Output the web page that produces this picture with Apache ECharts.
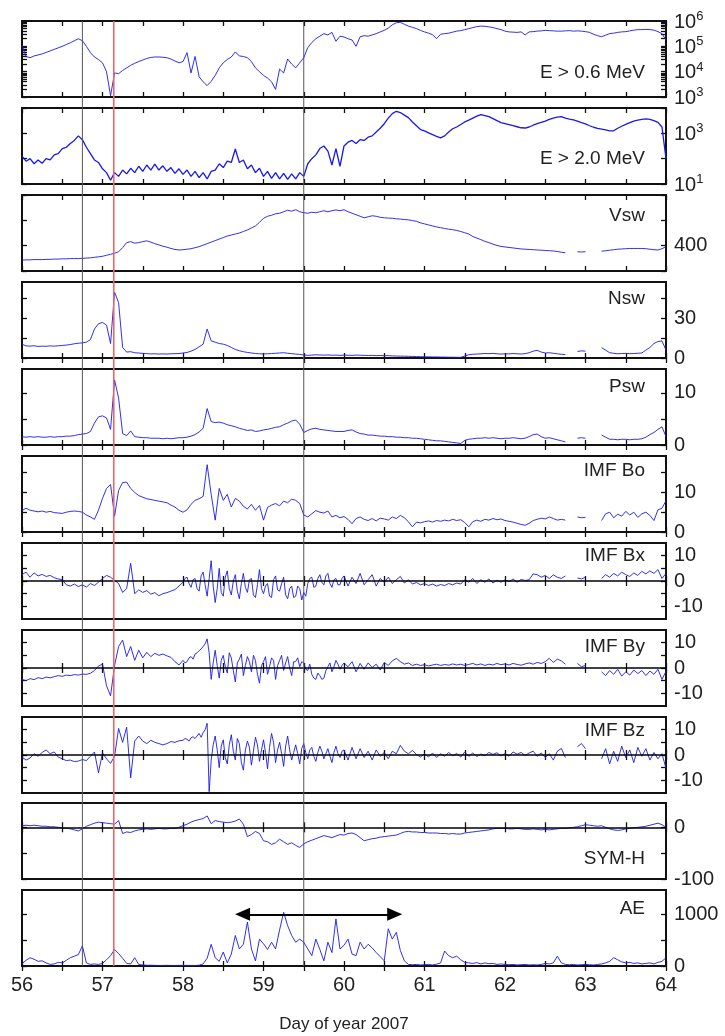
<!DOCTYPE html>
<html><head><meta charset="utf-8">
<script src="https://cdn.jsdelivr.net/npm/echarts@6/dist/echarts.min.js"></script>
<style>html,body{margin:0;padding:0;background:#fff}#c{width:725px;height:1036px}</style>
</head><body><div id="c"></div>
<script>
// ---- time grid (day of year 2007), sample step 0.05 day; finer 0.025 step for 58-60 in IMF panels ----
const T0 = 56, DT = 0.05;
const FINE_T0 = 58, FINE_T1 = 60, FINE_DT = 0.025;
const dayTicks = [56,56.5,57,57.5,58,58.5,59,59.5,60,60.5,61,61.5,62,62.5,63,63.5,64];
const dayLabels = [56,57,58,59,60,61,62,63,64];
const markerDays = [56.75, 59.5];
const shockDay = 57.14;
const aeArrowDays = [58.74, 60.63];
const aeArrowLevel = 1000;

// E > 0.6 MeV flux, log10 exponent
const e06Exp = [
5.05,4.6,4.55,4.62,4.66,4.7,4.76,4.82,4.88,4.94,5.0,5.07,5.14,5.22,5.3,5.22,5.0,4.75,4.58,4.48,
4.35,4.0,3.05,3.95,3.92,4.05,4.15,4.25,4.33,4.4,4.46,4.52,4.56,4.58,4.58,4.57,4.55,4.5,4.42,4.35,
4.4,4.75,3.95,4.6,3.8,3.6,3.45,3.62,3.85,4.15,4.35,4.48,4.58,4.78,4.62,4.6,4.55,4.4,4.15,4.0,
3.85,3.75,3.6,3.3,4.1,3.95,4.5,4.3,4.15,4.35,4.55,4.95,5.15,5.3,5.4,5.5,5.45,5.55,5.2,5.4,
5.37,5.3,5.25,5.0,5.38,5.42,5.4,5.45,5.5,5.57,5.63,5.72,5.85,5.93,5.95,5.87,5.8,5.75,5.7,5.63,
5.57,5.52,5.46,5.3,5.48,5.5,5.52,5.56,5.6,5.62,5.66,5.7,5.74,5.78,5.8,5.79,5.77,5.74,5.7,5.66,
5.6,5.57,5.56,5.55,5.57,5.45,5.57,5.58,5.6,5.61,5.63,5.62,5.61,5.6,5.6,5.61,5.62,5.6,5.61,5.6,
5.58,5.55,5.48,5.42,5.38,5.44,5.5,5.52,5.55,5.57,5.58,5.61,5.64,5.66,5.66,5.67,5.66,5.64,5.58,5.5,
5.25];
// E > 2.0 MeV flux, log10 exponent
const e20Exp = [
2.1,1.9,2.0,1.8,1.95,1.82,2.0,1.95,2.15,2.2,2.4,2.45,2.6,2.72,2.9,2.75,2.45,2.2,1.95,1.85,
1.6,1.45,1.15,1.45,1.3,1.55,1.4,1.62,1.45,1.7,1.5,1.75,1.55,1.78,1.55,1.72,1.5,1.65,1.42,1.6,
1.38,1.55,1.3,1.5,1.25,1.45,1.2,1.5,1.55,1.8,1.65,1.9,1.85,2.38,1.85,1.95,1.6,1.75,1.45,1.62,
1.3,1.5,1.22,1.45,1.2,1.42,1.18,1.4,1.2,1.45,1.3,1.8,2.0,2.15,2.4,2.5,2.3,1.75,2.4,1.7,
2.5,2.65,2.72,2.6,2.75,2.72,2.85,2.9,3.05,3.2,3.38,3.6,3.78,3.87,3.82,3.72,3.62,3.45,3.3,3.15,
3.1,3.02,2.95,2.88,2.82,2.9,3.05,3.18,3.25,3.35,3.45,3.52,3.6,3.68,3.74,3.7,3.66,3.58,3.5,3.42,
3.38,3.34,3.3,3.26,3.22,3.21,3.25,3.32,3.38,3.43,3.48,3.55,3.6,3.64,3.66,3.6,3.56,3.53,3.48,3.42,
3.37,3.3,3.24,3.2,3.17,3.14,3.1,3.1,3.2,3.28,3.35,3.42,3.48,3.52,3.55,3.57,3.55,3.5,3.43,3.25,
2.0];
const vsw = [
343,344,344,345,345,345,346,346,347,347,348,348,349,349,349,350,351,352,354,356,
358,362,366,370,376,392,412,416,410,412,416,419,414,408,403,398,394,389,385,383,
384,386,388,392,396,402,408,414,420,426,432,438,442,446,450,456,462,470,478,492,
508,516,520,526,528,534,540,536,542,534,530,528,532,530,534,538,534,538,541,538,
542,534,528,522,516,510,514,518,516,512,510,509,508,506,505,503,502,499,496,490,
486,482,478,474,471,468,465,463,460,456,451,446,436,430,424,417,412,406,401,397,
395,393,391,389,387,386,385,384,383,382,381,380,379,377,374,372,null,null,376,375,
376,null,null,null,378,380,382,384,386,387,388,389,389,389,389,388,386,384,383,388,
396];
const nsw = [
10.5,9.2,9.0,9.3,8.8,9.0,8.9,9.2,9.0,9.3,9.5,9.8,10.2,10.8,11.2,11.5,12.0,14,22,26,
27,25,11,50,42,8,4.5,4.8,4.0,3.8,3.5,3.3,3.1,3.2,3.0,3.1,3.0,3.2,3.3,3.4,
3.8,4.2,5.2,6.5,8.5,10.5,22,13,12,11,10.5,9.5,8,6.5,5.5,4.8,4.2,3.8,3.4,3.2,
3.1,3.2,3.4,3.6,3.8,4.0,3.6,3.3,3.0,2.7,2.3,2.0,2.2,2.4,2.3,2.2,2.3,2.1,2.2,2.0,
2.2,2.1,2.0,2.2,2.1,2.0,1.9,2.0,1.8,1.9,1.7,1.8,1.6,1.5,1.4,1.4,1.3,1.2,1.1,1.0,
0.9,0.9,0.8,0.8,0.7,0.7,0.6,0.6,0.5,0.5,1.5,2.5,2.8,3.0,3.2,3.4,3.3,3.5,3.2,3.0,
3.2,3.1,3.4,3.2,3.0,3.3,4.0,5.2,5.8,4.5,3.8,4.0,3.6,3.2,2.8,2.6,null,null,5.0,5.4,
5.2,null,null,null,7.8,6.0,4.0,3.6,3.2,3.4,3.5,3.3,3.4,3.6,3.8,6.0,8.0,11.0,12.5,13.0,
6.0];
const psw = [
1.6,1.5,1.6,1.5,1.6,1.5,1.5,1.6,1.5,1.6,1.6,1.7,1.7,1.8,2.0,2.1,2.2,2.6,4.2,5.4,
5.6,5.2,3.0,12.5,9.0,2.2,1.8,2.7,1.6,1.5,1.4,1.4,1.3,1.3,1.3,1.2,1.3,1.2,1.3,1.4,
1.4,1.5,1.7,2.0,2.5,3.2,7.0,4.5,4.3,4.4,4.2,3.9,3.7,3.5,3.2,3.0,2.8,2.9,2.6,2.7,
2.9,3.0,3.2,3.4,3.5,3.9,4.2,4.6,4.8,4.0,2.4,2.8,3.1,3.2,3.0,2.9,2.8,2.7,2.6,2.6,
2.6,2.8,2.9,2.5,2.2,2.1,1.9,1.9,1.8,1.7,1.7,1.6,1.6,1.5,1.5,1.4,1.4,1.3,1.3,1.2,
1.1,1.0,0.9,0.8,0.8,0.7,0.6,0.5,0.4,0.3,0.9,1.1,1.2,1.3,1.3,1.4,1.3,1.4,1.3,1.2,
1.3,1.3,1.4,1.3,1.2,1.3,1.6,2.0,2.1,1.6,1.3,1.4,1.2,1.0,0.8,0.6,null,null,1.3,1.4,
1.3,null,null,null,1.9,1.5,1.1,1.1,1.0,1.1,1.1,1.0,1.1,1.1,1.2,1.5,2.0,2.4,3.0,3.5,
1.6];
const imfBo = [
5.4,6.0,5.5,5.3,5.1,5.3,5.0,5.2,4.9,4.8,4.7,5.0,5.2,5.3,5.2,5.0,4.3,3.8,3.2,5.5,
8.5,11.0,12.0,4.0,10.5,12.5,12.6,11.0,10.0,9.2,8.8,8.4,8.2,8.0,7.8,7.6,7.4,6.8,6.3,5.5,
5.0,5.6,7.0,8.0,8.4,9.0,17.0,9.5,3.0,11.0,8.0,9.5,6.3,8.5,7.8,6.5,5.8,7.0,5.5,6.7,
3.0,6.2,6.8,7.2,6.6,7.8,7.4,8.3,8.0,7.2,4.3,3.8,4.6,5.4,5.0,4.8,5.3,3.8,4.2,3.6,
3.9,3.2,2.1,3.4,3.8,3.2,2.9,3.4,2.8,3.5,3.3,3.0,3.8,3.4,4.2,3.6,2.6,1.3,2.5,2.3,
2.6,2.8,2.5,2.9,2.7,3.0,2.8,3.2,2.9,3.1,2.4,1.3,2.6,3.0,2.7,3.2,3.0,3.4,3.1,3.3,
2.9,2.7,2.5,2.2,1.9,1.7,2.2,2.9,3.2,3.5,3.3,3.8,3.4,3.0,3.2,3.0,null,null,3.8,3.6,
3.7,null,null,null,2.9,4.6,5.0,3.6,4.5,4.0,5.2,4.3,5.0,3.7,4.6,5.0,4.2,2.9,5.6,6.0,
7.9];
const imfBx = [
2.5,3.5,1.5,3.2,2.0,2.6,1.8,2.2,1.3,0.8,0.5,-1.5,-2.0,-1.2,-2.2,-1.5,-2.4,-1.0,-1.8,-0.5,
1.0,2.2,1.5,0.2,-1.0,-4.5,-3.0,7.0,-5.0,-3.5,-4.5,-3.8,-5.2,-4.6,-5.8,-5.0,-4.6,-4.0,-3.4,-2.0,
-0.5,1.5,-2.5,1.0,-4.0,3.5,-6.0,8.0,-8.5,5.0,-6.0,4.0,-5.5,2.5,-7.0,3.0,-4.5,1.0,-6.5,4.5,
-5.0,-1.0,-6.5,2.0,-4.0,1.5,-7.0,-2.0,-6.0,-3.0,-4.5,-1.0,1.5,-2.0,2.5,-1.5,3.0,-2.5,1.0,-1.5,
2.0,-2.0,1.5,-1.0,3.0,-1.5,0.5,2.5,-2.0,1.0,-0.5,1.5,-1.0,0.5,1.8,-0.8,0.5,-1.2,-0.6,-1.5,
-1.0,-1.8,-1.2,-2.0,-1.4,-1.8,-1.0,-1.5,-0.8,-1.2,0.5,-0.5,1.0,-1.0,0.5,-0.5,0.8,-0.8,0.3,-0.5,
0.5,-0.3,0.8,-0.5,0.6,0.2,0.5,2.8,2.5,1.5,2.2,1.0,2.4,1.5,1.0,2.0,null,null,1.2,0.8,
1.5,null,null,null,1.0,2.5,1.5,3.0,2.0,3.5,2.5,1.8,3.2,2.2,3.8,2.8,4.0,3.0,4.5,1.0,
3.0];
const imfBxFine = [
-0.5,1.0,1.5,-1.0,-2.5,0.5,1.0,-3.0,-4.0,2.0,3.5,-1.5,-6.0,1.0,8.0,-2.0,-8.5,-3.0,5.0,-4.5,
-6.0,1.5,4.0,-3.0,-5.5,0.0,2.5,-4.0,-7.0,-1.0,3.0,-2.5,-4.5,0.5,1.0,-5.5,-6.5,-1.5,4.5,-3.0,
-5.0,-2.0,-1.0,-6.0,-6.5,0.5,2.0,-3.5,-4.0,-1.0,1.5,-5.5,-7.0,-3.0,-2.0,-6.5,-6.0,-2.0,-3.0,-7.5,
-4.5,-6.0,-1.0,1.0,1.5,-2.5,-2.0,1.0,2.5,-0.5,-1.5,2.0,3.0,-1.0,-2.5,0.5,1.0,-1.5,-1.5,1.0];
const imfBy = [
-4.5,-5.0,-4.2,-4.6,-3.8,-4.2,-3.6,-3.9,-3.4,-3.0,-3.3,-2.8,-3.0,-2.6,-2.8,-2.4,-2.5,-2.1,-1.0,0.8,
1.5,-7.0,-11.0,1.0,8.5,11.0,4.5,8.5,3.0,7.0,4.0,6.2,4.5,5.8,5.0,5.5,4.8,4.2,2.5,1.2,
3.0,2.5,4.5,5.5,6.8,8.5,11.5,-4.5,7.0,-4.0,5.0,-2.0,4.0,-5.5,3.5,-3.0,4.5,-1.5,3.0,-6.0,
2.5,-2.5,4.0,-4.5,3.0,-1.0,4.5,-3.0,2.5,0.5,2.0,-1.0,-2.5,-4.5,-3.0,-4.0,0.5,-1.5,3.0,-0.5,
2.0,0.5,2.5,-1.5,1.8,-0.5,2.0,0.2,1.5,-0.8,2.2,1.0,2.8,3.8,2.5,1.5,2.0,1.0,1.5,1.0,
1.3,0.8,1.2,1.5,1.0,1.4,1.1,1.6,1.2,1.5,1.0,1.4,1.8,1.2,1.6,1.0,1.5,1.2,1.8,1.3,
1.6,1.2,1.8,1.4,1.1,1.6,2.0,1.5,2.2,1.8,2.5,3.8,2.2,3.5,2.8,1.5,null,null,1.8,0.5,
1.0,null,null,null,-1.5,-3.0,-1.0,-2.5,-0.5,-3.2,-1.5,-2.8,-0.8,-2.2,-1.0,-3.0,-1.2,-2.5,-0.5,-4.5,
-1.3];
const imfByFine = [
3.0,2.0,2.5,4.0,4.5,3.5,5.5,6.0,6.8,7.5,8.5,9.5,11.5,6.0,-4.5,2.0,7.0,1.0,-4.0,3.0,
5.0,0.5,-2.0,6.0,4.0,-1.0,-5.5,2.0,3.5,5.5,-3.0,1.0,4.5,2.5,-1.5,5.0,3.0,-2.5,-6.0,1.0,
2.5,4.5,-2.5,0.5,4.0,3.0,-4.5,1.0,3.0,5.0,-1.0,2.0,4.5,0.0,-3.0,2.5,2.5,4.0,0.5,2.5,
2.0,-0.5,-1.0,1.5,-2.5,-4.0,-4.5,-2.0,-3.0,-4.5,-4.0,-1.0,0.5,2.0,-1.5,0.5,3.0,1.5,-0.5,1.0];
const imfBz = [
-0.8,-2.0,-1.2,0.5,-0.5,1.0,2.0,0.5,1.2,-0.8,-1.5,-2.2,-2.0,-2.6,-2.4,-1.8,-2.2,-0.5,1.2,-7.0,
0.8,-1.5,-3.3,-0.5,10.5,5.0,11.0,-9.0,5.5,7.5,5.5,4.5,5.8,5.0,4.5,4.0,4.5,5.3,5.0,5.6,
5.8,6.2,6.8,6.5,8.5,12.5,-14.5,-2.0,7.5,-5.0,6.0,-3.5,8.0,-2.0,4.5,-6.0,5.5,-4.0,7.0,-2.5,
6.0,-5.5,8.5,-3.0,5.0,-4.5,7.5,-2.0,4.0,-3.5,4.5,-1.5,3.0,-2.5,3.5,-1.5,2.5,-3.0,3.5,-1.0,
2.0,-2.0,3.0,-1.5,2.5,-1.0,1.5,-2.0,2.0,-0.5,1.0,-1.5,1.5,0.5,3.8,1.5,0.5,1.8,0.2,-0.8,
0.5,-0.8,0.8,-1.0,0.5,-0.5,1.0,-0.3,0.6,-0.8,1.2,-0.5,0.8,-0.6,0.4,-0.3,1.0,0.2,0.9,-0.4,
0.6,-0.5,1.2,0.3,1.0,-0.2,0.8,1.5,-0.5,0.8,-1.0,0.5,-2.0,1.5,2.6,-1.0,null,null,3.3,4.5,
2.5,null,null,null,-1.5,2.5,-3.5,1.5,-2.5,3.5,-1.0,2.0,-3.0,3.0,-0.5,2.5,-2.0,1.0,-1.5,0.5,
-5.3];
const imfBzFine = [
5.8,6.5,6.2,5.5,6.8,7.2,6.5,7.5,8.5,7.0,8.8,10.0,12.5,-14.5,-2.0,4.0,7.5,2.0,-5.0,3.5,
6.0,-1.0,-3.5,4.0,8.0,1.5,-2.0,6.5,4.5,-3.0,-6.0,2.0,5.5,3.0,-4.0,1.5,7.0,4.0,-2.5,2.0,
6.0,1.0,-5.5,3.0,8.5,5.0,-3.0,2.0,5.0,0.5,-4.5,3.5,7.5,2.0,-2.0,1.0,4.0,0.5,-3.5,2.5,
4.5,1.0,-1.5,2.0,3.0,-0.5,-2.5,1.0,3.5,1.5,-1.5,0.5,2.5,-0.5,-3.0,1.0,3.5,0.5,-1.0,1.5];
const symH = [
3,4,3,4,3,2,2,1,1,0,-1,-2,-3,-5,-7,-3,2,5,8,10,
9,8,7,6,13,-12,-9,-10,-7,-5,-4,-3,-4,-3,-2,-3,-3,-2,-2,0,
3,6,10,13,15,17,22,7,13,11,10,9,10,12,16,6,-18,-14,-8,-12,
-26,-28,-33,-30,-23,-28,-33,-30,-35,-39,-32,-28,-25,-22,-19,-16,-18,-20,-17,-14,
-15,-12,-11,-14,-20,-26,-24,-22,-21,-19,-18,-17,-16,-15,-12,-9,-8,-9,-9,-10,
-10,-11,-11,-11,-12,-12,-13,-12,-13,-13,-11,-10,-9,-8,-7,-6,-5,-3,-2,-2,
-2,-3,-3,-2,-3,-4,-4,-3,-4,-5,-4,-5,-4,-3,-2,-2,-1,0,1,3,
5,4,3,2,3,0,-3,-5,-6,-5,-3,-2,-1,0,1,2,4,6,8,5,
0];
const ae = [
40,110,160,130,90,100,60,30,40,70,60,110,160,190,220,390,60,30,40,30,
50,120,200,320,240,150,50,40,160,30,20,15,15,12,10,10,12,10,10,12,
10,12,10,10,15,40,150,420,160,90,270,60,230,590,330,420,850,330,100,520,
430,320,460,330,700,1040,780,590,460,520,460,330,200,520,320,100,460,260,910,330,
400,520,230,200,460,330,420,350,260,180,100,720,520,650,300,100,30,25,30,20,
25,30,20,35,60,290,200,160,190,120,70,60,50,65,40,60,45,50,30,40,
30,25,30,20,25,30,20,25,20,30,50,40,60,190,60,30,25,30,20,25,
30,25,20,30,40,60,90,160,120,80,60,70,50,60,40,50,60,40,70,90,
160];

// ---- helpers ----
function logTicks(d0, d1) {
  const t = [];
  for (let d = d0; d < d1; d++) for (let k = 1; k <= 9; k++) t.push(d + Math.log10(k));
  t.push(d1);
  return t;
}
function buildPoints(values, fine) {
  const pts = [];
  values.forEach((v, k) => {
    const d = T0 + k * DT;
    if (!fine || d < FINE_T0 - 1e-9 || d > FINE_T1 - 1e-9) pts.push([d, v]);
  });
  if (fine) fine.forEach((v, k) => pts.push([FINE_T0 + k * FINE_DT, v]));
  pts.sort((a, b) => a[0] - b[0]);
  return pts;
}
const panels = [
  {label:'E > 0.6 MeV', values:e06Exp, min:3, max:6, ticks:logTicks(3,6), labels:[3,4,5,6], exp:true},
  {label:'E > 2.0 MeV', values:e20Exp, min:1, max:4, ticks:[1,2,3,4], labels:[1,3], exp:true, lw:1.3},
  {label:'Vsw', values:vsw, min:300, max:600, ticks:[300,400,500,600], labels:[400]},
  {label:'Nsw', values:nsw, min:0, max:57.7, ticks:[0,15,30,45], labels:[0,30]},
  {label:'Psw', values:psw, min:0, max:14.6, ticks:[0,5,10], labels:[0,10]},
  {label:'IMF Bo', values:imfBo, min:0, max:19.2, ticks:[0,5,10,15], labels:[0,10]},
  {label:'IMF Bx', values:imfBx, fine:imfBxFine, min:-15, max:15, ticks:[-10,-5,0,5,10], labels:[-10,0,10], zero:true},
  {label:'IMF By', values:imfBy, fine:imfByFine, min:-15, max:15, ticks:[-10,-5,0,5,10], labels:[-10,0,10], zero:true},
  {label:'IMF Bz', values:imfBz, fine:imfBzFine, min:-15, max:15, ticks:[-10,-5,0,5,10], labels:[-10,0,10], zero:true},
  {label:'SYM-H', values:symH, min:-100, max:47, ticks:[-100,-50,0], labels:[-100,0], zero:true},
  {label:'AE', values:ae, min:0, max:1470, ticks:[0,500,1000], labels:[0,1000], arrow:true}
];

// ---- layout ----
const gridTops = [21,108,195,282,369,456,543,630,717,803,890];
const gridH = 76, gridLeft = 22, gridRight = 59;
const labelTops = [63,149,206,289,377,461,546,637,721,849,899];
const FONT = '"Liberation Sans", Arial, sans-serif';
const LINE = '#1a1ae8';

const grids = [], xAxes = [], yAxes = [], series = [], titles = [];
panels.forEach((p, i) => {
  grids.push({left:gridLeft, right:gridRight, top:gridTops[i], height:gridH, show:true,
    borderColor:'#111', borderWidth:2, backgroundColor:'transparent'});
  const tickStyle = {show:true, inside:true, length:5, lineStyle:{color:'#111', width:1.3}};
  ['bottom','top'].forEach(pos => {
    const last = (i === panels.length - 1 && pos === 'bottom');
    xAxes.push({type:'value', gridIndex:i, position:pos, min:56, max:64,
      axisLine:{show:false}, splitLine:{show:false},
      axisTick:Object.assign({customValues:dayTicks}, tickStyle),
      axisLabel: last ? {show:true, customValues:dayLabels, fontSize:20, color:'#222', margin:9, fontFamily:FONT,
        showMinLabel:true, showMaxLabel:true} : {show:false},
      name: last ? 'Day of year 2007' : '', nameLocation:'middle', nameGap:50,
      nameTextStyle:{fontSize:17, color:'#222', fontFamily:FONT}});
  });
  ['left','right'].forEach(pos => {
    const right = pos === 'right';
    yAxes.push({type:'value', gridIndex:i, position:pos, min:p.min, max:p.max,
      axisLine:{show:false}, splitLine:{show:false},
      axisTick:Object.assign({customValues:p.ticks}, tickStyle),
      axisLabel: right ? {show:true, customValues:p.labels, margin:8, color:'#222', fontFamily:FONT, fontSize:20,
        showMinLabel:true, showMaxLabel:true, hideOverlap:false,
        formatter: p.exp ? (v => '{b|10}{s|' + Math.round(v) + '}') : (v => String(v)),
        rich: p.exp ? {b:{fontSize:20, color:'#222', fontFamily:FONT, lineHeight:22, verticalAlign:'bottom'},
                       s:{fontSize:13, color:'#222', fontFamily:FONT, lineHeight:13, verticalAlign:'top'}} : undefined
      } : {show:false}});
  });
  const s = {type:'line', xAxisIndex:2*i, yAxisIndex:2*i, showSymbol:false, connectNulls:false,
    data: buildPoints(p.values, p.fine),
    lineStyle:{color:LINE, width:p.lw || 0.9}, itemStyle:{color:LINE}, silent:true, z:3};
  if (p.zero) {
    s.markLine = {silent:true, symbol:'none', label:{show:false}, animation:false,
      lineStyle:{color:'#000', width:1.6, type:'solid'}, data:[{yAxis:0}]};
  }
  if (p.arrow) {
    s.markLine = {silent:true, symbol:['triangle','triangle'], symbolSize:[13,15], label:{show:false}, animation:false,
      lineStyle:{color:'#000', width:2, type:'solid'}, itemStyle:{color:'#000'},
      data:[[{coord:[aeArrowDays[0], aeArrowLevel]}, {coord:[aeArrowDays[1], aeArrowLevel]}]]};
  }
  series.push(s);
  titles.push({text:p.label, right:80, top:labelTops[i], padding:0,
    textStyle:{fontSize:19, fontWeight:'normal', color:'#222', fontFamily:FONT}});
});

const chart = echarts.init(document.getElementById('c'), null, {renderer:'canvas'});
chart.setOption({animation:false, backgroundColor:'#fff', title:titles, grid:grids, xAxis:xAxes, yAxis:yAxes, series:series});

// vertical event lines spanning all panels, positioned through the axis scales
const last = panels.length - 1;
const yTop = chart.convertToPixel({gridIndex:0}, [56, panels[0].max])[1];
const yBot = chart.convertToPixel({gridIndex:last}, [56, panels[last].min])[1];
const vlines = markerDays.map(d => ({d:d, c:'#555', w:1})).concat([{d:shockDay, c:'#e8676a', w:1.6}]);
chart.setOption({graphic: vlines.map(v => {
  const x = chart.convertToPixel({gridIndex:0}, [v.d, panels[0].min])[0];
  return {type:'line', z:5, silent:true, shape:{x1:x, y1:yTop, x2:x, y2:yBot}, style:{stroke:v.c, lineWidth:v.w}};
})});
</script></body></html>
